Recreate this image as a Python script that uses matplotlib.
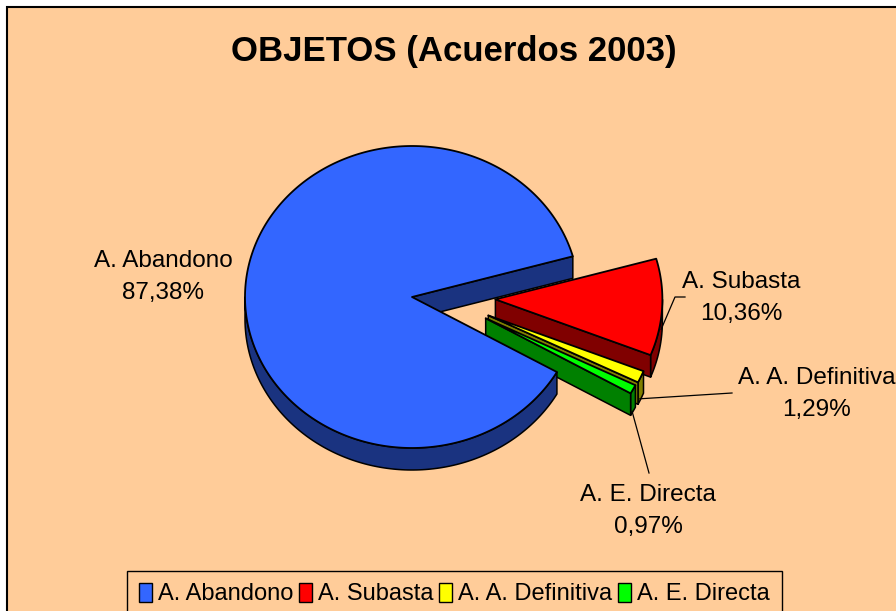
import numpy as np
import matplotlib
matplotlib.use('Agg')
import matplotlib.pyplot as plt
from matplotlib.patches import Polygon, Rectangle, Patch

# ---- data ----
categories = ['A. Abandono', 'A. Subasta', 'A. A. Definitiva', 'A. E. Directa']
values = [87.38, 10.36, 1.29, 0.97]
value_labels = ['87,38%', '10,36%', '1,29%', '0,97%']
explode = [0.0, 0.5, 0.5, 0.5]
top_colors = ['#3366FF', '#FF0000', '#FFFF00', '#00FF00']
side_colors = ['#1A3380', '#800000', '#808000', '#008000']
title = 'OBJETOS (Acuerdos 2003)'

plt.rcParams['font.family'] = ['Liberation Sans', 'DejaVu Sans']

W, H = 896, 611
fig = plt.figure(figsize=(W / 100, H / 100), dpi=100)
fig.patch.set_facecolor('white')
ax = fig.add_axes([0, 0, 1, 1])
ax.set_xlim(0, W)
ax.set_ylim(H, 0)
ax.axis('off')

# chart area
ax.add_patch(Rectangle((6.5, 6.5), W + 30, H + 30, facecolor='#FFCC99',
                       edgecolor='black', lw=1.5, zorder=0))

# ---- 3D pie geometry (screen pixel coords) ----
cx, cy, rx, ry, depth = 412, 297, 167, 151, 22
start = -29.8      # math degrees, slices run clockwise
ky = 0.6           # vertical compression of explosion offset


def rim(ox, oy, th):
    t = np.radians(th)
    return ox + rx * np.cos(t), oy - ry * np.sin(t)


def arc(ox, oy, a, b, n=None):
    if n is None:
        n = max(int(abs(b - a) / 1.0) + 2, 3)
    th = np.radians(np.linspace(a, b, n))
    return np.column_stack([ox + rx * np.cos(th), oy - ry * np.sin(th)])


fr = np.array(values) / np.sum(values)
cum = np.concatenate([[0], np.cumsum(fr)[:-1]])
s_ang = start - 360 * cum
e_ang = s_ang - 360 * fr
bis = (s_ang + e_ang) / 2

origins = []
for i in range(len(values)):
    b = np.radians(bis[i])
    ox = cx + explode[i] * rx * np.cos(b)
    oy = cy - explode[i] * ry * np.sin(b) * ky
    origins.append((ox, oy))

draw_order = [1, 2, 3, 0]
for k, i in enumerate(draw_order):
    ox, oy = origins[i]
    s, e = s_ang[i], e_ang[i]
    z = 2 + 3 * k
    # outer wall: visible where sin < 0
    for kk in range(-2, 2):
        lo, hi = -180 + 360 * kk, 0 + 360 * kk
        a, b2 = max(lo, e), min(hi, s)
        if b2 > a:
            top = arc(ox, oy, a, b2)
            bot = top[::-1] + np.array([0, depth])
            ax.add_patch(Polygon(np.vstack([top, bot]), closed=True,
                                 facecolor=side_colors[i], edgecolor='black',
                                 lw=1.1, zorder=z, joinstyle='round'))
    # radial faces
    for th, vis in ((e, np.cos(np.radians(e)) > 0), (s, np.cos(np.radians(s)) < 0)):
        if vis and fr[i] < 1:
            p = rim(ox, oy, th)
            poly = [(ox, oy), p, (p[0], p[1] + depth), (ox, oy + depth)]
            ax.add_patch(Polygon(poly, closed=True, facecolor=side_colors[i],
                                 edgecolor='black', lw=1.1, zorder=z + 0.5,
                                 joinstyle='round'))
    # top face
    top = arc(ox, oy, s, e)
    ax.add_patch(Polygon(np.vstack([[ox, oy], top]), closed=True,
                         facecolor=top_colors[i], edgecolor='black', lw=1.3,
                         zorder=z + 1, joinstyle='round'))

# ---- labels ----
lab_fs = 17.5
label_pos = [(163, 277), (741, 298), (817, 394), (648, 511)]
leader_pts = [None, [(685, 297), (675, 297)], [(732, 393)], [(649, 473)]]
for i in range(len(values)):
    x, y = label_pos[i]
    ax.text(x, y, categories[i] + '\n' + value_labels[i], ha='center',
            va='center', fontsize=lab_fs, color='black', linespacing=1.55,
            zorder=30)
    if leader_pts[i] is not None:
        ox, oy = origins[i]
        p = rim(ox, oy, bis[i])
        end = (p[0] - 1, p[1] + depth)
        pts = np.array(leader_pts[i] + [end])
        ax.plot(pts[:, 0], pts[:, 1], color='black', lw=0.9, zorder=31)

# ---- title ----
ax.text(454, 51, title, ha='center', va='center', fontsize=25,
        fontweight='bold', color='black', zorder=30)

# ---- legend ----
handles = [Patch(facecolor=top_colors[i], edgecolor='black', lw=1.0,
                 label=categories[i]) for i in range(len(values))]
leg = fig.legend(handles=handles, loc='upper left',
                 bbox_to_anchor=(127 / W, 1 - 571 / H), ncol=4,
                 fontsize=17, frameon=True, fancybox=False, shadow=False,
                 handlelength=0.55, handleheight=0.85, handletextpad=0.25,
                 columnspacing=0.25, borderpad=0.5, borderaxespad=0)
frame = leg.get_frame()
frame.set_facecolor('#FFCC99')
frame.set_edgecolor('black')
frame.set_linewidth(1.0)
frame.set_alpha(1)

fig.savefig('out.png', dpi=100, facecolor=fig.get_facecolor())
